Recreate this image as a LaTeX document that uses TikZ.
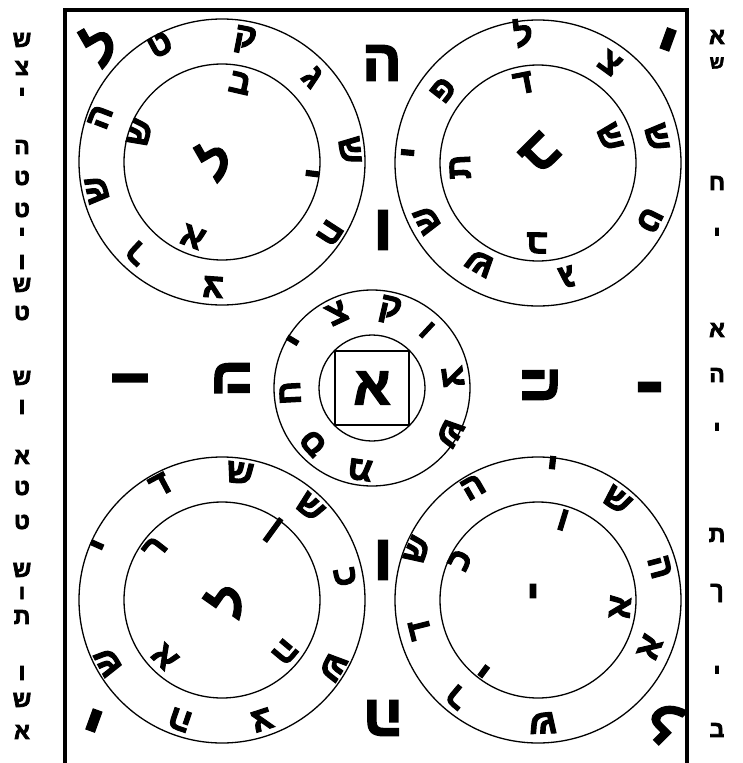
\documentclass[tikz,border=0pt]{standalone}
\usepackage{fontspec}
\newfontfamily\hebf[Script=Hebrew,FakeBold=3]{Liberation Sans}
\tikzset{
  hl/.style={inner sep=0pt,text=black},
  ringline/.style={line width=1.3pt},
  framebox/.style={line width=3.5pt},
}
\newcommand\HL[5][34]{\node[hl,font=\hebf\bfseries\fontsize{#1}{#1}\selectfont,rotate=#4] (#2) at (#3) {#5};}
\begin{document}
\begin{tikzpicture}[x=1pt,y=-1pt]
\useasboundingbox (0,0) rectangle (743,763);
\draw[framebox] (65,763) -- (65,10) -- (687,10) -- (687,763);
% circles
\coordinate (TL) at (222,162);
\coordinate (TR) at (538,163);
\coordinate (CC) at (372,388);
\coordinate (BL) at (222,600);
\coordinate (BR) at (538,600);
\foreach \c in {TL,TR,BL,BR}{
  \draw[ringline] (\c) circle [radius=143];
  \draw[ringline] (\c) circle [radius=98];
}
\draw[ringline] (CC) circle [radius=98];
\draw[ringline] (CC) circle [radius=53];
\draw[ringline] (335,351) rectangle (409,425);
% top-left wheel
\HL{tla}{245,40}{-11}{ק}
\HL{tlb}{160,45}{28}{ט}
\HL{tlc}{100,117}{69}{ה}
\HL{tld}{97,190}{102}{ש}
\HL{tle}{137,253}{137}{ר}
\HL{tlf}{213,287}{176}{צ}
\HL{tlg}{330,233}{-123}{ח}
\HL{tlh}{350,150}{-84}{ש}
\HL{tli}{313,77}{-47}{ג}
\HL{tlj}{240,83}{-13}{ב}
\HL{tlk}{140,133}{70}{ש}
\HL[38]{tll}{307,173}{-97}{י}
\HL{tlm}{193,237}{159}{א}
\HL[50]{tlx}{215,160}{30}{ל}
% top-right wheel
\HL{tra}{523,33}{7}{ל}
\HL{trb}{610,63}{-36}{צ}
\HL{trc}{657,137}{-78}{ש}
\HL{trd}{650,220}{-117}{ט}
\HL{tre}{567,277}{-166}{ג}
\HL{trf}{480,263}{150}{ש}
\HL{trg}{427,220}{117}{ש}
\HL[38]{trh}{413,153}{85}{י}
\HL{tri}{443,90}{52}{פ}
\HL{trj}{523,83}{11}{ד}
\HL{trk}{610,137}{-70}{ש}
\HL{trl}{537,243}{179}{ב}
\HL{trm}{460,167}{93}{ת}
\HL[54]{trx}{540,153}{-135}{ב}
% centre wheel
\HL{ca}{390,310}{-13}{ק}
\HL{cb}{337,313}{25}{צ}
\HL[36]{cc}{297,343}{59}{י}
\HL{cd}{290,393}{93}{ח}
\HL{ce}{313,443}{133}{ס}
\HL{cf}{360,470}{172}{מ}
\HL{cg}{450,433}{-120}{ש}
\HL{ch}{453,377}{-82}{צ}
\HL[30]{ci}{427,330}{-43}{ו}
\HL[54]{cx}{372,388}{0}{א}
% bottom-left wheel
\HL{bla}{160,485}{28}{ד}
\HL{blb}{240,473}{-8}{ש}
\HL{blc}{310,507}{-43}{ש}
\HL{bld}{345,577}{-79}{כ}
\HL{ble}{333,667}{-121}{ש}
\HL{blf}{262,720}{-162}{צ}
\HL{blg}{180,720}{161}{ה}
\HL{blh}{108,662}{118}{ש}
\HL[38]{bli}{102,547}{66}{י}
\HL{blj}{155,548}{52}{ר}
\HL{blk}{273,530}{-36}{ן}
\HL{bll}{285,652}{-130}{ה}
\HL{blm}{165,657}{135}{א}
\HL[50]{blx}{227,600}{55}{ל}
% bottom-right wheel
\HL[38]{bra}{552,468}{-6}{י}
\HL{brb}{617,500}{-38}{ש}
\HL{brc}{660,567}{-75}{ה}
\HL{brd}{650,647}{-113}{א}
\HL{bre}{543,723}{-178}{ש}
\HL{brf}{457,697}{140}{ר}
\HL{brg}{420,630}{104}{ד}
\HL{brh}{417,550}{67}{ש}
\HL{bri}{473,487}{30}{ה}
\HL{brj}{563,520}{-17}{ו}
\HL{brk}{460,560}{63}{כ}
\HL{brl}{620,607}{-95}{א}
\HL[38]{brm}{487,667}{143}{י}
\HL[42]{brx}{533,597}{0}{י}
% free letters
\HL[58]{fa}{382,63}{0}{ה}
\HL[52]{fb}{100,45}{30}{ל}
\HL[64]{fc}{665,48}{-20}{י}
\HL[64]{fd}{383,230}{0}{ו}
\HL[56]{fe}{130,378}{90}{ו}
\HL[56]{ff}{232,378}{90}{ה}
\HL[56]{fg}{540,385}{-90}{ה}
\HL[66]{fh}{640,387}{-90}{י}
\HL[64]{fi}{383,560}{0}{ו}
\HL[58]{fj}{383,718}{180}{ה}
\HL[64]{fk}{97,712}{160}{י}
\HL[52]{fl}{665,720}{135}{ל}
% left column
\HL[23]{L1}{22,40}{0}{ש}
\HL[23]{L2}{22,68}{0}{צ}
\HL[23]{L3}{22,95}{0}{י}
\HL[23]{L4}{22,147}{0}{ה}
\HL[23]{L5}{22,178}{0}{ט}
\HL[23]{L6}{22,210}{0}{ט}
\HL[23]{L7}{22,235}{0}{י}
\HL[23]{L8}{22,262}{0}{ו}
\HL[23]{L9}{22,285}{0}{ש}
\HL[23]{L10}{22,313}{0}{ט}
\HL[23]{L11}{22,378}{0}{ש}
\HL[23]{L12}{22,407}{0}{ו}
\HL[23]{L13}{22,457}{0}{א}
\HL[23]{L14}{22,488}{0}{ט}
\HL[23]{L15}{22,522}{0}{ט}
\HL[23]{L16}{22,570}{0}{ש}
\HL[20]{L17}{22,593}{0}{ו}
\HL[23]{L18}{22,617}{0}{ת}
\HL[23]{L19}{22,673}{0}{ו}
\HL[23]{L20}{22,700}{0}{ש}
\HL[23]{L21}{22,732}{0}{א}
% right column
\HL[23]{R1}{717,37}{0}{א}
\HL[18]{R2}{717,63}{0}{ש}
\HL[23]{R3}{717,183}{0}{ח}
\HL[23]{R4}{717,235}{0}{י}
\HL[23]{R5}{717,330}{0}{א}
\HL[23]{R6}{717,375}{0}{ה}
\HL[23]{R7}{717,430}{0}{י}
\HL[23]{R8}{717,535}{0}{ת}
\HL[23]{R9}{717,593}{0}{ך}
\HL[23]{R10}{717,673}{0}{י}
\HL[23]{R11}{717,730}{0}{ב}
\end{tikzpicture}
\end{document}
